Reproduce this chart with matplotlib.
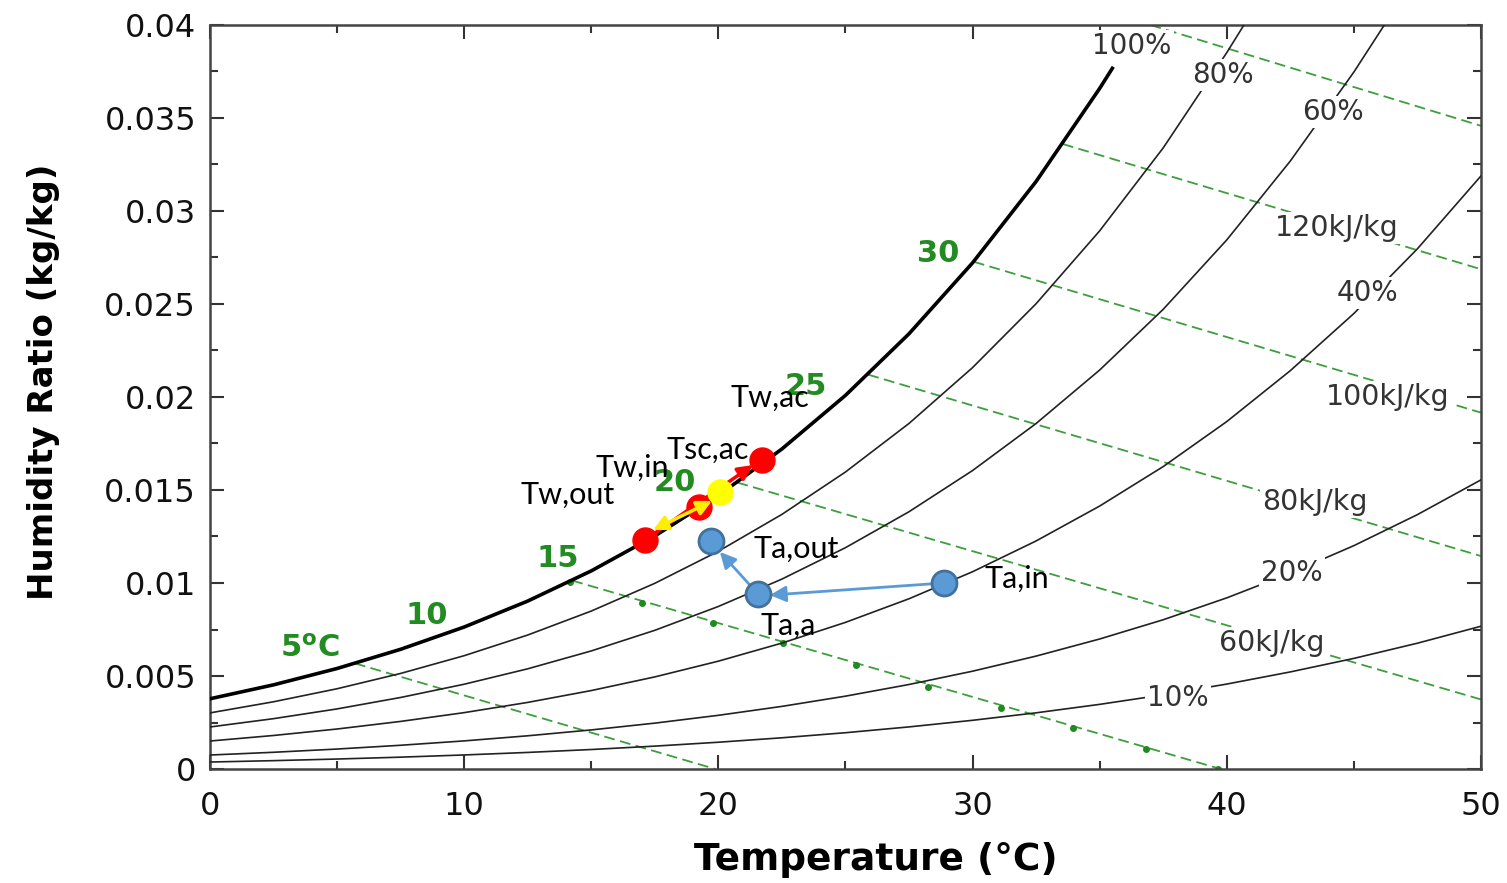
import numpy as np
import matplotlib
matplotlib.use("Agg")
import matplotlib.pyplot as plt

# dry-bulb temperature grid (degC)
T = [0, 2.5, 5, 7.5, 10, 12.5, 15, 17.5, 20, 22.5, 25, 27.5, 30, 32.5, 35,
     37.5, 40, 42.5, 45, 47.5, 50]

# relative humidity curves, humidity ratio (kg/kg)
w100 = [0.003775, 0.004524, 0.005403, 0.006435, 0.007632, 0.009028, 0.010650,
        0.012527, 0.014699, 0.017204, 0.020086, 0.023397, 0.027210, 0.031585,
        0.036587, 0.03767]
t100 = T[:15] + [35.5]
w80 = [0.003016, 0.003614, 0.004314, 0.005137, 0.006091, 0.007202, 0.008491,
       0.009982, 0.011704, 0.013688, 0.015966, 0.018577, 0.021579, 0.025014,
       0.028930, 0.033390, 0.038510, 0.04005]
t80 = T[:17] + [40.7]
w60 = [0.002259, 0.002706, 0.003230, 0.003845, 0.004557, 0.005386, 0.006347,
       0.007456, 0.008737, 0.010210, 0.011898, 0.013830, 0.016045, 0.018574,
       0.021448, 0.024712, 0.028442, 0.032684, 0.037466, 0.04000]
t60 = T[:19] + [46.2]
w40 = [0.001504, 0.001802, 0.002150, 0.002558, 0.003030, 0.003580, 0.004217,
       0.004951, 0.005797, 0.006769, 0.007882, 0.009152, 0.010605, 0.012260,
       0.014136, 0.016259, 0.018677, 0.021414, 0.024486, 0.027965, 0.031882]
w20 = [0.000751, 0.000899, 0.001073, 0.001276, 0.001511, 0.001785, 0.002101,
       0.002466, 0.002886, 0.003366, 0.003916, 0.004543, 0.005258, 0.006070,
       0.006989, 0.008024, 0.009200, 0.010526, 0.012007, 0.013675, 0.015543]
w10 = [0.000375, 0.000449, 0.000536, 0.000637, 0.000755, 0.000891, 0.001048,
       0.001230, 0.001439, 0.001678, 0.001951, 0.002263, 0.002618, 0.003020,
       0.003475, 0.003987, 0.004566, 0.005219, 0.005946, 0.006763, 0.007675]

# enthalpy lines: end points (T, W)
h_lines = {
    20: ([5.7, 19.88], [0.00568, 0.0]),
    40: ([14.25, 39.76], [0.01013, 0.0]),
    60: ([20.75, 50.0], [0.01540, 0.00374]),
    80: ([25.9, 50.0], [0.02120, 0.01145]),
    100: ([30.05, 50.0], [0.02727, 0.01916]),
    120: ([33.55, 50.0], [0.03360, 0.02687]),
    140: ([37.0, 50.0], [0.04000, 0.03458]),
}
dots_t = [14.16, 17.0, 19.79, 22.54, 25.41, 28.25, 31.12, 33.95, 36.82, 39.65]
dots_w = [0.01005, 0.00892, 0.00785, 0.00677, 0.00559, 0.00441, 0.00328,
          0.00220, 0.00108, 0.0]

# saturation temperature labels
sat_labels = ["5$^{\\mathbf{o}}$C", "10", "15", "20", "25", "30"]
sat_lab_t = [3.93, 8.54, 13.69, 18.29, 23.45, 28.64]
sat_lab_w = [0.0065, 0.00823, 0.01134, 0.01543, 0.02059, 0.02769]

rh_labels = ["100%", "80%", "60%", "40%", "20%", "10%"]
rh_lab_t = [36.27, 39.85, 44.18, 45.55, 42.57, 38.08]
rh_lab_w = [0.03887, 0.03731, 0.03532, 0.02559, 0.01054, 0.00382]

h_labels = ["120kJ/kg", "100kJ/kg", "80kJ/kg", "60kJ/kg"]
h_lab_t = [44.34, 46.34, 43.47, 41.78]
h_lab_w = [0.02909, 0.0200, 0.01435, 0.00677]

# state points
tw_names = ["Tw,out", "Tw,in", "Tw,ac"]
tw_t = [17.11, 19.24, 21.72]
tw_w = [0.01231, 0.01409, 0.01661]
tsc_t, tsc_w = 20.06, 0.01489
ta_names = ["Ta,out", "Ta,a", "Ta,in"]
ta_t = [19.71, 21.56, 28.87]
ta_w = [0.01226, 0.00941, 0.01000]

point_labels = ["Tw,out", "Tw,in", "Tsc,ac", "Tw,ac", "Ta,out", "Ta,a", "Ta,in"]
plab_t = [12.2, 15.18, 17.98, 20.46, 21.4, 21.64, 30.49]
plab_w = [0.01473, 0.01618, 0.01715, 0.01995, 0.01183, 0.00769, 0.01022]

fig = plt.figure(figsize=(15.07, 8.83), dpi=100)
ax = fig.add_axes([0.1393, 0.1291, 0.8434, 0.8426])

green = '#3c9e3c'
for h, (ht, hw) in h_lines.items():
    ax.plot(ht, hw, color=green, lw=1.3, dashes=(6, 3), zorder=2)
ax.plot(dots_t, dots_w, 'o', color='#1f8a1f', ms=4, zorder=2)

ax.plot(t100, w100, color='black', lw=2.6, zorder=3)
ax.plot(t80, w80, color='#222222', lw=1.2, zorder=3)
ax.plot(t60, w60, color='#222222', lw=1.2, zorder=3)
for w in (w40, w20, w10):
    ax.plot(T, w, color='#222222', lw=1.2, zorder=3)

bb = dict(facecolor='white', edgecolor='none', pad=1.5)
for s, x, y in zip(rh_labels, rh_lab_t, rh_lab_w):
    ax.text(x, y, s, fontsize=20, color='#333333', ha='center', va='center',
            bbox=bb, zorder=4)
for s, x, y in zip(h_labels, h_lab_t, h_lab_w):
    ax.text(x, y, s, fontsize=20.5, color='#333333', ha='center', va='center',
            bbox=bb, zorder=4)
for s, x, y in zip(sat_labels, sat_lab_t, sat_lab_w):
    ax.text(x, y, s, fontsize=22, fontweight='bold', color='#228B22',
            ha='center', va='center', zorder=4)

# process arrows
ax.annotate('', xy=(21.36, 0.01634), xytext=(tw_t[0], tw_w[0]),
            arrowprops=dict(arrowstyle='-|>', color='red', lw=2.5,
                            mutation_scale=22, shrinkA=0, shrinkB=0), zorder=5)
ax.plot(tw_t, tw_w, 'o', color='red', ms=18, zorder=6)
ax.annotate('', xy=(19.75, 0.01441), xytext=(17.43, 0.01285),
            arrowprops=dict(arrowstyle='<|-|>', color='#ffee00', lw=2.5,
                            mutation_scale=22, shrinkA=0, shrinkB=0), zorder=7)
ax.plot([tsc_t], [tsc_w], 'o', color='yellow', ms=18, zorder=8)

blue = '#5b9bd5'
ax.annotate('', xy=(22.03, 0.00935), xytext=(ta_t[2], ta_w[2]),
            arrowprops=dict(arrowstyle='-|>', color=blue, lw=2,
                            mutation_scale=24, shrinkA=0, shrinkB=0), zorder=5)
ax.annotate('', xy=(20.06, 0.01167), xytext=(ta_t[1], ta_w[1]),
            arrowprops=dict(arrowstyle='-|>', color=blue, lw=2,
                            mutation_scale=24, shrinkA=0, shrinkB=0), zorder=5)
ax.plot(ta_t, ta_w, 'o', color=blue, mec='#41719c', mew=2, ms=18, zorder=6)

for s, x, y in zip(point_labels, plab_t, plab_w):
    ax.text(x, y, s, fontsize=22, family='Lato', color='black',
            ha='left', va='center', zorder=9)

ax.set_xlim(0, 50)
ax.set_ylim(0, 0.04)
ax.set_xticks([0, 10, 20, 30, 40, 50])
ax.set_xticks([5, 15, 25, 35, 45], minor=True)
ax.set_yticks([0, 0.005, 0.01, 0.015, 0.02, 0.025, 0.03, 0.035, 0.04])
ax.set_yticklabels(['0', '0.005', '0.01', '0.015', '0.02', '0.025', '0.03',
                    '0.035', '0.04'])
ax.set_yticks(np.arange(0.0025, 0.04, 0.005), minor=True)
ax.tick_params(which='both', direction='in', top=True, right=True,
               colors='#333333', labelcolor='#111111', width=1.5)
ax.tick_params(which='major', length=10, labelsize=23)
ax.tick_params(which='minor', length=6)
ax.tick_params(axis='y', pad=10)
ax.tick_params(axis='x', pad=16)
for sp in ax.spines.values():
    sp.set_color('#444444')
    sp.set_linewidth(1.8)

ax.set_xlabel('Temperature (\u00b0C)', fontsize=27, fontweight='bold')
ax.set_ylabel('Humidity Ratio (kg/kg)', fontsize=24.5, fontweight='bold')
ax.xaxis.set_label_coords(0.524, -0.098)
ax.yaxis.set_label_coords(-0.118, 0.52)

plt.savefig('out.png', dpi=100)
